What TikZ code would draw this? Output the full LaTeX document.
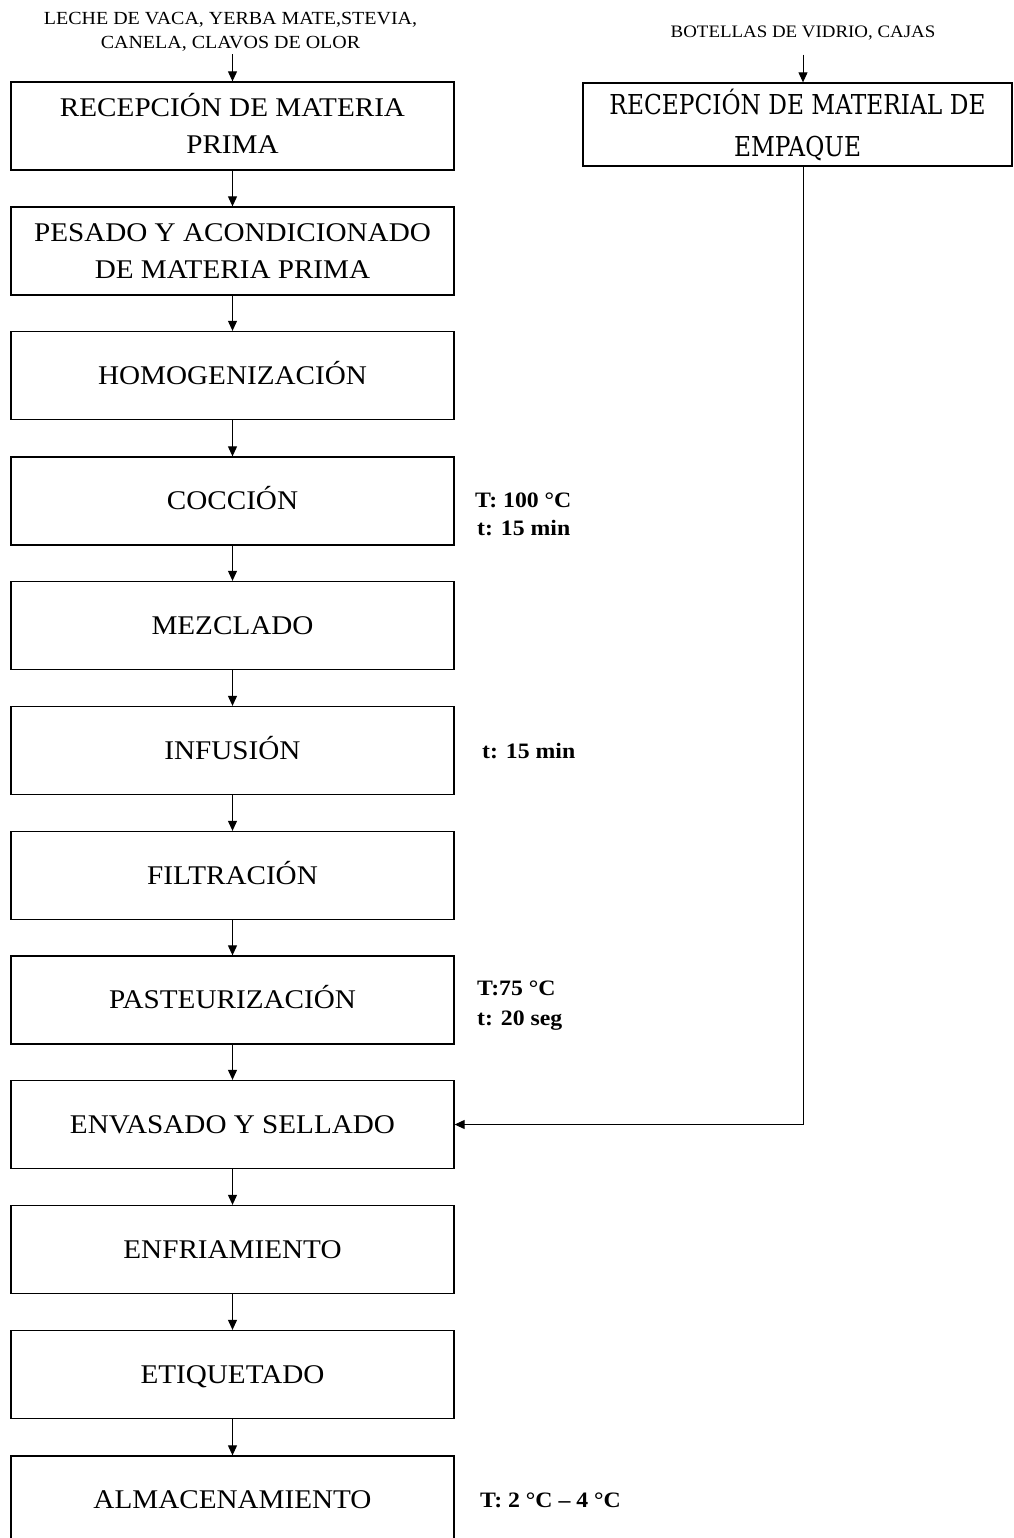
\documentclass[tikz,border=0pt]{standalone}
\usepackage{fontspec}
\setmainfont{Liberation Serif}[FakeStretch=1.08]
\newfontfamily\rfont{DejaVu Serif}[FakeStretch=0.85]
\usetikzlibrary{arrows.meta}
\begin{document}
\begin{tikzpicture}[x=1pt,y=-1pt,
  box/.style={draw, line width=1.3pt, minimum width=443pt, minimum height=88pt,
    inner sep=0pt, text height=17.9pt, text depth=0pt,
    font=\fontsize{27}{37}\selectfont, align=center},
  boxtwo/.style={box, text height=54.9pt, text depth=0pt},
  arr/.style={line width=1pt, -{Triangle[length=10pt,width=9pt]}},
  note/.style={anchor=base west, inner sep=0pt, font=\bfseries\fontsize{22}{26}\selectfont},
  inlbl/.style={font=\fontsize{18.5}{23.5}\selectfont, inner sep=0pt, anchor=base}]
\useasboundingbox (0,0) rectangle (1013,1538);

% input labels
\node[inlbl] (inA) at (230.5,25) {LECHE DE VACA, YERBA MATE,STEVIA,};
\node[inlbl] (inA2) at (230.5,48.3) {CANELA, CLAVOS DE OLOR};
\node[inlbl, font=\fontsize{17.5}{20}\selectfont] (inB) at (803,37.7) {BOTELLAS DE VIDRIO, CAJAS};

% main column
\node[boxtwo] (b1) at (232.5,126) {RECEPCIÓN DE MATERIA\\PRIMA};
\node[boxtwo] (b2) at (232.5,251) {PESADO Y ACONDICIONADO\\DE MATERIA PRIMA};
\node[box] (b3) at (232.5,375.5) {HOMOGENIZACIÓN};
\node[box] (b4) at (232.5,501) {COCCIÓN};
\node[box] (b5) at (232.5,625.5) {MEZCLADO};
\node[box] (b6) at (232.5,750.5) {INFUSIÓN};
\node[box] (b7) at (232.5,875.5) {FILTRACIÓN};
\node[box] (b8) at (232.5,1000) {PASTEURIZACIÓN};
\node[box] (b9) at (232.5,1124.5) {ENVASADO Y SELLADO};
\node[box] (b10) at (232.5,1249.5) {ENFRIAMIENTO};
\node[box] (b11) at (232.5,1374.5) {ETIQUETADO};
\node[box] (b12) at (232.5,1500) {ALMACENAMIENTO};

% packaging box
\node[draw, line width=1.3pt, minimum width=429pt, minimum height=83pt, inner sep=0pt,
  align=center, font=\rfont\fontsize{27.4}{42}\selectfont, text height=64pt, text depth=0pt]
  (rb) at (797.5,124.5) {RECEPCIÓN DE MATERIAL DE\\EMPAQUE};

% notes
\node[note] (n4a) at (475,507) {T: 100 °C};
\node[note] (n4b) at (477,535) {t: 15 min};
\node[note] (n6) at (482,758) {t: 15 min};
\node[note] (n8a) at (477,995) {T:75 °C};
\node[note] (n8b) at (477,1025) {t: 20 seg};
\node[note] (n12) at (480,1507) {T: 2 °C – 4 °C};

% connectors
\draw[arr, shorten <=3pt] (b1.north |- inA2.south) -- (b1.north);
\draw[arr, shorten <=14pt] (inB.south) -- (inB.south |- rb.north);
\foreach \a/\b in {b1/b2,b2/b3,b3/b4,b4/b5,b5/b6,b6/b7,b7/b8,b8/b9,b9/b10,b10/b11,b11/b12}
  \draw[arr] (\a) -- (\b);
\draw[arr] (rb.south -| inB.south) |- (b9.east);
\end{tikzpicture}
\end{document}
